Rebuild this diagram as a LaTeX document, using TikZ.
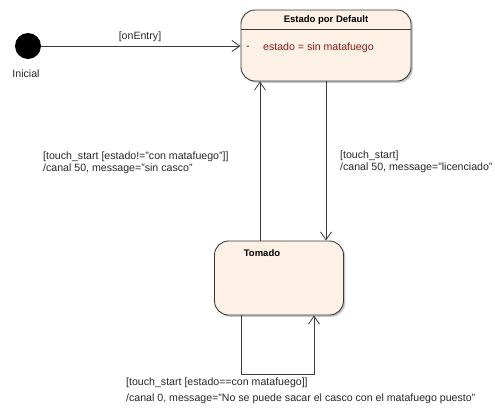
\documentclass[tikz,border=0pt]{standalone}
\usepackage{fontspec}
\setmainfont{Liberation Sans}
\usetikzlibrary{arrows.meta,shadows}
\definecolor{statefill}{HTML}{FCF1E4}
\definecolor{stateline}{HTML}{3A3A3A}
\definecolor{attrred}{HTML}{8B1C1C}
\tikzset{
  statebox/.style={draw=stateline, line width=0.9pt, fill=statefill, rounded corners=14pt,
    drop shadow={shadow xshift=1.8pt, shadow yshift=-1.8pt, opacity=0.45, fill=gray}},
  trans/.style={draw=stateline, line width=0.8pt, -{Straight Barb[length=8pt,width=11pt,line width=0.8pt]}},
  lbl/.style={font=\fontsize{10.6}{12}\selectfont, anchor=west, align=left, inner sep=0pt, text=black!85},
  ttl/.style={font=\fontsize{9.5}{11}\selectfont\bfseries, inner sep=0pt}
}
\begin{document}
\begin{tikzpicture}[x=1pt,y=-1pt]
\useasboundingbox (0,0) rectangle (495,408);
% initial
\node[circle, fill=black, minimum size=26pt, inner sep=0pt] (ini) at (28,46) {};
\node[lbl, anchor=center] (inilbl) at (26,74) {Inicial};
% default state
\node[statebox, minimum width=170pt, minimum height=71pt, inner sep=0pt] (def) at (326,45.5) {};
\coordinate (h) at (0,29);
\draw[stateline, line width=0.8pt] (def.west |- h) -- (def.east |- h);
\node[ttl] (deft) at (326,20) {Estado por Default};
\node[lbl] (dash) at (246,48) {-};
\node[lbl, text=attrred] (attr) at (263,48) {estado = sin matafuego};
% tomado state
\node[statebox, minimum width=129pt, minimum height=74pt, inner sep=0pt] (tom) at (279,278) {};
\node[ttl] (tomt) at (262,253) {Tomado};
% initial transition
\draw[trans] (ini.east) -- (def.west |- ini);
\node[lbl, anchor=center] (onentry) at (140,37) {[onEntry]};
% up / down transitions
\coordinate (ux) at (260,0);
\coordinate (dx) at (326,0);
\draw[trans] (tom.north -| ux) -- (def.south -| ux);
\draw[trans] (def.south -| dx) -- (tom.north -| dx);
\node[lbl] (leftlbl) at (43,163) {[touch\_start [estado!="con matafuego"]]\\/canal 50, message="sin casco"};
\node[lbl] (rightlbl) at (340,162) {[touch\_start]\\/canal 50, message="licenciado"};
% self loop
\coordinate (l1) at (241,374);
\coordinate (l2) at (314,374);
\draw[trans] (tom.south -| l1) -- (l1) -- (l2) -- (tom.south -| l2);
\node[lbl, font=\fontsize{10.6}{16}\selectfont] (looplbl) at (126,391) {[touch\_start [estado==con matafuego]]\\/canal 0, message="No se puede sacar el casco con el matafuego puesto"};
\end{tikzpicture}
\end{document}
